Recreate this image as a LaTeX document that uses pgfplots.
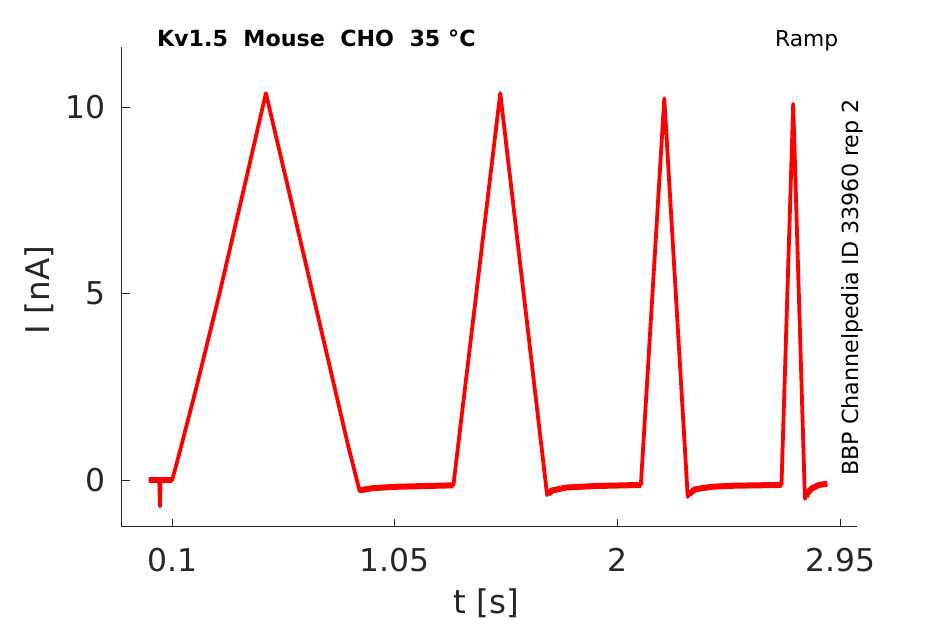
\documentclass[border=0pt]{standalone}
\usepackage{pgfplots}
\pgfplotsset{compat=1.18}
\usepackage{fontspec}
\setmainfont{DejaVu Sans}
\definecolor{axgray}{HTML}{262626}
\begin{document}
\begin{tikzpicture}
\useasboundingbox (-61pt,-48.65pt) rectangle (411.5pt,263.35pt);
\begin{axis}[
  at={(0pt,0pt)}, anchor=south west,
  scale only axis, width=367.35pt, height=239.7pt,
  xmin=-0.114, xmax=3.021, ymin=-1.25, ymax=11.61,
  axis lines=left, axis line style={-, axgray, line width=0.5pt},
  tick align=inside, major tick length=3.8pt,
  tick style={axgray, line width=0.5pt},
  xtick={0.1,1.05,2,2.95}, xticklabels={0.1,1.05,2,2.95},
  ytick={0,5,10}, yticklabels={0,5,10},
  xticklabel style={anchor=base, yshift=-22.5pt, font=\fontsize{15.7}{18}\selectfont, text=axgray},
  yticklabel style={anchor=east, inner sep=0pt, xshift=-8pt, font=\fontsize{15.7}{18}\selectfont, text=axgray},
  /pgf/number format/assume math mode=true,
  clip=false,
]
\addplot[red, line width=1.9pt, line join=round] coordinates {
(0.0,0.0) (0.045,0.0) (0.048,-0.7) (0.051,0.0) (0.1,0.0)
(0.13,0.7) (0.2,2.4) (0.3,4.95) (0.4,7.65) (0.5,10.38)
(0.6,7.7) (0.7,5.0) (0.8,2.3) (0.85,0.95) (0.9,-0.3)
(0.95,-0.22) (1.05,-0.18) (1.3,-0.14)
(1.5,10.38) (1.7,-0.4)
(1.72,-0.28) (1.78,-0.2) (1.9,-0.16) (2.1,-0.13)
(2.2,10.24) (2.3,-0.45)
(2.31,-0.35) (2.33,-0.25) (2.4,-0.18) (2.5,-0.15) (2.7,-0.13)
(2.75,10.09) (2.8,-0.5)
(2.81,-0.35) (2.83,-0.22) (2.86,-0.13) (2.895,-0.1)
};
\addplot[red, line width=3.2pt] coordinates {(0.0,0.0) (0.1,0.0)};
\addplot[red, line width=3.0pt, line join=round] coordinates {(0.905,-0.27) (0.95,-0.22) (1.05,-0.18) (1.3,-0.14)};
\addplot[red, line width=3.0pt, line join=round] coordinates {(1.705,-0.37) (1.72,-0.28) (1.78,-0.2) (1.9,-0.16) (2.1,-0.13)};
\addplot[red, line width=3.0pt, line join=round] coordinates {(2.305,-0.4) (2.31,-0.35) (2.33,-0.25) (2.4,-0.18) (2.5,-0.15) (2.7,-0.13)};
\addplot[red, line width=3.0pt, line join=round] coordinates {(2.805,-0.45) (2.81,-0.35) (2.83,-0.22) (2.86,-0.13) (2.895,-0.1)};
\end{axis}
\node[anchor=base west, inner sep=0pt, font=\fontsize{11.1}{13}\selectfont\bfseries] at (17.3pt,240pt) {Kv1.5\ \ Mouse\ \ CHO\ \ 35 °C};
\node[anchor=base east, inner sep=0pt, font=\fontsize{10.9}{13}\selectfont] at (358.3pt,240pt) {Ramp};
\node[rotate=90, anchor=base, inner sep=0pt, font=\fontsize{11.1}{13}\selectfont] at (368pt,119.6pt) {BBP Channelpedia ID 33960 rep 2};
\node[rotate=90, anchor=base, inner sep=0pt, font=\fontsize{16.3}{19}\selectfont, text=axgray] at (-36.35pt,118.35pt) {I [nA]};
\node[anchor=base, inner sep=0pt, font=\fontsize{16.3}{19}\selectfont, text=axgray] at (182pt,-43.65pt) {t [s]};
\end{tikzpicture}
\end{document}
